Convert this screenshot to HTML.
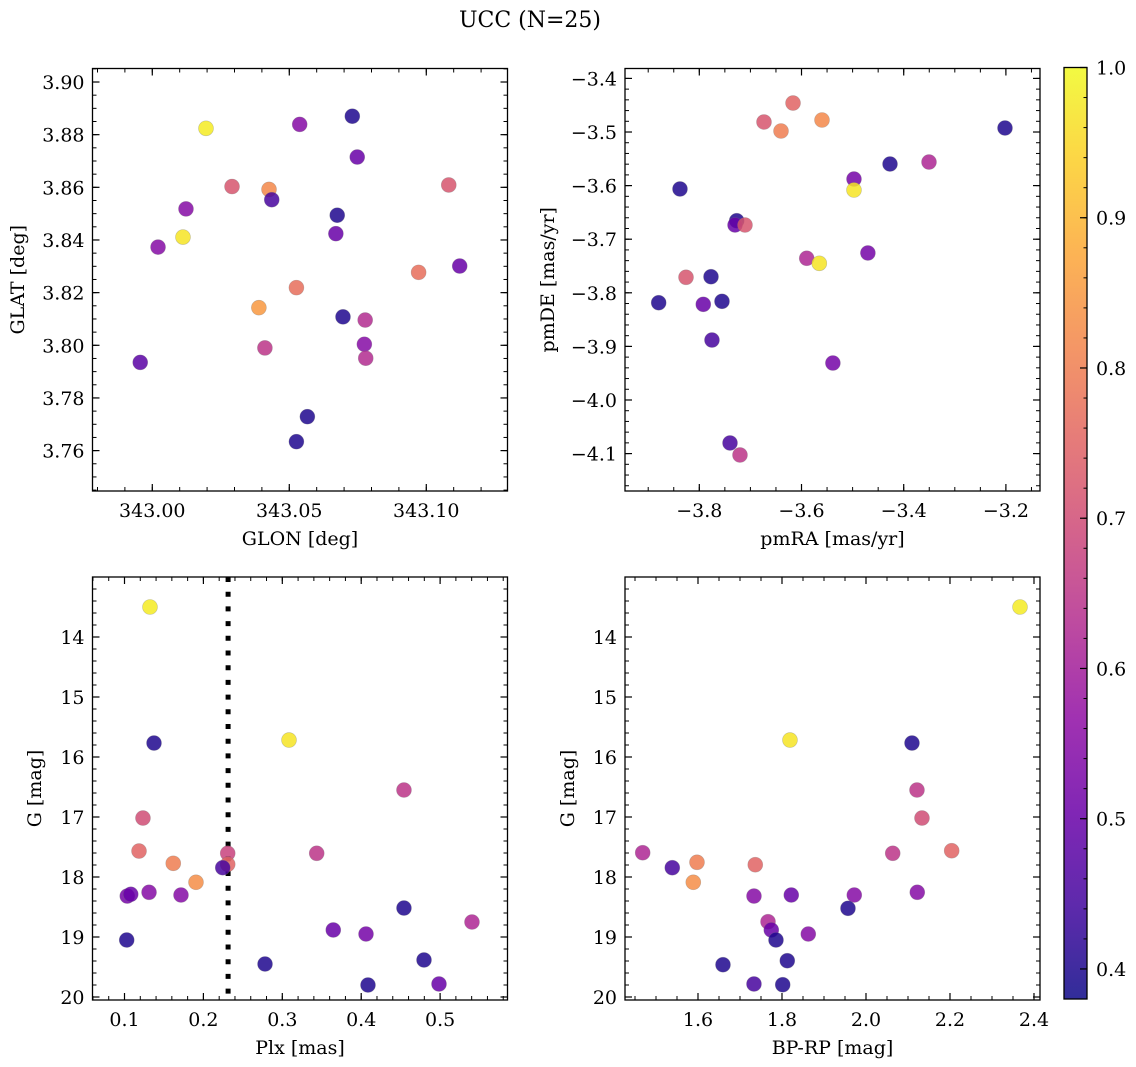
<!DOCTYPE html>
<html><head><meta charset="utf-8"><style>
html,body{margin:0;padding:0;background:#fff;}
svg{display:block;font-family:"DejaVu Serif","Liberation Serif",serif;}
</style></head><body>
<svg id="fig" width="1136" height="1067" viewBox="0 0 1136 1067" xmlns="http://www.w3.org/2000/svg">
<text x="530" y="27" text-anchor="middle" font-size="22">UCC (N=25)</text>
</svg>
<script>
// ---- data (per panel) ----
const glonVals=[343.0196,343.0538,343.0730,343.0748,343.0291,343.0426,343.0436,343.1082,343.0123,343.0675,343.0112,343.0021,343.0670,343.0972,343.1122,343.0526,343.0389,343.0696,343.0777,343.0774,343.0779,343.0411,342.9956,343.0566,343.0526];
const glatVals=[3.8824,3.8839,3.8870,3.8715,3.8603,3.8592,3.8553,3.8609,3.8518,3.8494,3.8411,3.8373,3.8424,3.8277,3.8301,3.8219,3.8143,3.8108,3.8096,3.8004,3.7951,3.7990,3.7935,3.7729,3.7634];
const probTL=[0.98,0.55,0.40,0.50,0.72,0.82,0.45,0.72,0.55,0.40,0.97,0.55,0.50,0.77,0.50,0.77,0.85,0.40,0.63,0.55,0.63,0.65,0.48,0.40,0.40];

const pmraVals=[-3.6166,-3.5599,-3.6734,-3.6401,-3.2018,-3.4973,-3.4268,-3.3505,-3.4973,-3.8378,-3.7268,-3.7301,-3.7106,-3.5898,-3.5652,-3.4701,-3.8260,-3.7771,-3.8795,-3.7922,-3.7556,-3.7752,-3.5386,-3.7399,-3.7204];
const pmdeVals=[-3.4459,-3.4776,-3.4813,-3.4981,-3.4925,-3.5877,-3.5597,-3.5560,-3.6082,-3.6063,-3.6655,-3.6735,-3.6735,-3.7356,-3.7450,-3.7257,-3.7711,-3.7700,-3.8185,-3.8215,-3.8159,-3.8881,-3.9310,-4.0802,-4.1026];
const probTR=[0.75,0.82,0.72,0.80,0.40,0.52,0.40,0.62,0.97,0.40,0.40,0.50,0.72,0.62,0.97,0.52,0.72,0.40,0.40,0.50,0.40,0.45,0.52,0.45,0.65];

const plxVals=[0.1323,0.3085,0.1374,0.4542,0.1234,0.1184,0.1618,0.1906,0.2308,0.2308,0.2245,0.3436,0.1035,0.1079,0.1311,0.1716,0.1028,0.3646,0.4542,0.5404,0.4061,0.2781,0.4796,0.4086,0.4986];
const gPlxVals=[13.50,15.717,15.767,16.55,17.017,17.567,17.772,18.088,17.605,17.788,17.845,17.605,18.317,18.288,18.255,18.30,19.05,18.883,18.517,18.75,18.95,19.45,19.383,19.80,19.783];
const probBL=[0.98,0.97,0.40,0.65,0.70,0.75,0.80,0.83,0.68,0.75,0.45,0.65,0.52,0.50,0.55,0.55,0.40,0.50,0.40,0.62,0.52,0.40,0.40,0.40,0.50];
const plxCut=[0.2313];

const bprpVals=[1.4683,1.5388,1.5976,1.5888,1.7364,1.7333,1.8221,1.9721,1.9571,2.0636,2.2040,2.1221,1.7667,1.7745,1.7857,1.8626,1.6595,1.8126,1.7333,1.8017,2.3667,1.8190,2.1095,2.1214,2.1333];
const gCmdVals=[17.595,17.845,17.755,18.088,17.795,18.317,18.30,18.30,18.522,17.605,17.562,18.255,18.745,18.883,19.05,18.95,19.462,19.395,19.783,19.795,13.50,15.717,15.767,16.55,17.017];
const probBR=[0.62,0.45,0.80,0.83,0.75,0.55,0.50,0.55,0.40,0.65,0.75,0.55,0.62,0.50,0.40,0.55,0.40,0.40,0.45,0.40,0.98,0.97,0.40,0.65,0.70];

const tlXTicks=[343.00,343.05,343.10];
const tlYTicks=[3.76,3.78,3.80,3.82,3.84,3.86,3.88,3.90];
const trXTicks=[-3.8,-3.6,-3.4,-3.2];
const trYTicks=[-4.1,-4.0,-3.9,-3.8,-3.7,-3.6,-3.5,-3.4];
const blXTicks=[0.1,0.2,0.3,0.4,0.5];
const gTicks=[14,15,16,17,18,19,20];
const brXTicks=[1.6,1.8,2.0,2.2,2.4];
const cbTicks=[0.4,0.5,0.6,0.7,0.8,0.9,1.0];

// ---- helpers ----
const NS="http://www.w3.org/2000/svg";
const svg=document.getElementById('fig');
const FS=19;
function mk(tag,attrs,parent){const e=document.createElementNS(NS,tag);for(const k in attrs)e.setAttribute(k,attrs[k]);(parent||svg).appendChild(e);return e;}
const stops=[[0,13,8,135],[0.1,65,4,157],[0.2,106,0,168],[0.3,143,13,164],[0.4,177,42,144],[0.5,204,71,120],[0.6,225,100,98],[0.7,242,132,75],[0.8,252,166,54],[0.9,252,206,37],[1,240,249,33]];
function plasma(t){t=Math.max(0,Math.min(1,t));for(let i=1;i<stops.length;i++){if(t<=stops[i][0]){const a=stops[i-1],b=stops[i];const f=(t-a[0])/(b[0]-a[0]);return `rgb(${Math.round(a[1]+f*(b[1]-a[1]))},${Math.round(a[2]+f*(b[2]-a[2]))},${Math.round(a[3]+f*(b[3]-a[3]))})`;}}return 'rgb(240,249,33)';}
const VMIN=0.38,VMAX=1.0;
function colorOf(p){return plasma((p-VMIN)/(VMAX-VMIN));}
function fmt(v,d){return (v<0?'\u2212':'')+Math.abs(v).toFixed(d);}

function panel(cfg){
  const g=mk('g',{});
  
  
  const {x0,x1,y0,y1}=cfg.box;
  const sx=v=>x0+(v-cfg.xd[0])/(cfg.xd[1]-cfg.xd[0])*(x1-x0);
  const sy=cfg.yInvert? (v=>y0+(v-cfg.yd[0])/(cfg.yd[1]-cfg.yd[0])*(y1-y0)) : (v=>y1-(v-cfg.yd[0])/(cfg.yd[1]-cfg.yd[0])*(y1-y0));
  const lo=Math.min(...cfg.xd),hi=Math.max(...cfg.xd);
  for(let v=Math.ceil(lo/cfg.xMinor-1e-9)*cfg.xMinor;v<=hi+1e-9;v+=cfg.xMinor){const px=sx(v);
    mk('line',{x1:px,x2:px,y1:y1,y2:y1-4,stroke:'#000','stroke-width':1},g);
    mk('line',{x1:px,x2:px,y1:y0,y2:y0+4,stroke:'#000','stroke-width':1},g);}
  const ylo=Math.min(...cfg.yd),yhi=Math.max(...cfg.yd);
  for(let v=Math.ceil(ylo/cfg.yMinor-1e-9)*cfg.yMinor;v<=yhi+1e-9;v+=cfg.yMinor){const py=sy(v);
    mk('line',{x1:x0,x2:x0+4,y1:py,y2:py,stroke:'#000','stroke-width':1},g);
    mk('line',{x1:x1,x2:x1-4,y1:py,y2:py,stroke:'#000','stroke-width':1},g);}
  cfg.xTicks.forEach(v=>{const px=sx(v);
    mk('line',{x1:px,x2:px,y1:y1,y2:y1-7,stroke:'#000','stroke-width':1.2},g);
    mk('line',{x1:px,x2:px,y1:y0,y2:y0+7,stroke:'#000','stroke-width':1.2},g);
    const t=mk('text',{x:px,y:y1+26,'text-anchor':'middle','font-size':FS},g);
    
    
    t.textContent=fmt(v,cfg.xDec);});
  cfg.yTicks.forEach(v=>{const py=sy(v);
    mk('line',{x1:x0,x2:x0+7,y1:py,y2:py,stroke:'#000','stroke-width':1.2},g);
    mk('line',{x1:x1,x2:x1-7,y1:py,y2:py,stroke:'#000','stroke-width':1.2},g);
    const t=mk('text',{x:x0-8,y:py+7,'text-anchor':'end','font-size':FS},g);
    
    
    t.textContent=fmt(v,cfg.yDec);});
  if(cfg.vline){const px=sx(cfg.vline[0]);
    const l=mk('line',{x1:px,x2:px,y1:y0,y2:y1,stroke:'#000','stroke-width':5,'stroke-dasharray':'5 9.7'},g);
    
    }
  cfg.xs.forEach((xv,i)=>{
    const c=mk('circle',{cx:sx(xv),cy:sy(cfg.ys[i]),r:7.5,fill:colorOf(cfg.ps[i]),'fill-opacity':0.85,stroke:'#777','stroke-opacity':0.4,'stroke-width':0.6},g);
    
    
  });
  const f=mk('rect',{x:x0,y:y0,width:x1-x0,height:y1-y0,fill:'none',stroke:'#000','stroke-width':1.3},g);
  
  
  const xt=mk('text',{x:(x0+x1)/2,y:y1+54,'text-anchor':'middle','font-size':FS},g);
  
  
  xt.textContent=cfg.xLabel;
  const yt=mk('text',{x:0,y:0,'text-anchor':'middle','font-size':FS,transform:`translate(${cfg.yLabelX},${(y0+y1)/2}) rotate(-90)`},g);
  
  
  yt.textContent=cfg.yLabel;
}

panel({name:'glon-glat-panel',box:{x0:92.5,x1:507.5,y0:68.5,y1:491},xd:[342.97818,343.12964],yd:[3.74466,3.90513],
  xTicks:tlXTicks,yTicks:tlYTicks,xMinor:0.01,yMinor:0.005,xDec:2,yDec:2,xs:glonVals,ys:glatVals,ps:probTL,
  xLabel:'GLON [deg]',yLabel:'GLAT [deg]',yLabelX:24});
panel({name:'pm-panel',box:{x0:625,x1:1040,y0:68.5,y1:491},xd:[-3.9454,-3.1333],yd:[-4.1698,-3.3815],
  xTicks:trXTicks,yTicks:trYTicks,xMinor:0.05,yMinor:0.02,xDec:1,yDec:1,xs:pmraVals,ys:pmdeVals,ps:probTR,
  xLabel:'pmRA [mas/yr]',yLabel:'pmDE [mas/yr]',yLabelX:554});
panel({name:'plx-g-panel',box:{x0:92.5,x1:507.5,y0:577,y1:1000},xd:[0.05944,0.58542],yd:[13.0,20.05],yInvert:true,
  xTicks:blXTicks,yTicks:gTicks,xMinor:0.02,yMinor:0.2,xDec:1,yDec:0,xs:plxVals,ys:gPlxVals,ps:probBL,vline:plxCut,
  xLabel:'Plx [mas]',yLabel:'G [mag]',yLabelX:41});
panel({name:'cmd-panel',box:{x0:625,x1:1040,y0:577,y1:1000},xd:[1.4262,2.4143],yd:[13.0,20.05],yInvert:true,
  xTicks:brXTicks,yTicks:gTicks,xMinor:0.05,yMinor:0.2,xDec:1,yDec:0,xs:bprpVals,ys:gCmdVals,ps:probBR,
  xLabel:'BP-RP [mag]',yLabel:'G [mag]',yLabelX:574});

// ---- colorbar ----
(function(){
  const cx0=1064,cx1=1087,cy0=67.5,cy1=999;
  const g=mk('g',{});
  
  
  const defs=mk('defs',{},g);
  const lg=mk('linearGradient',{id:'cbgrad',x1:0,y1:1,x2:0,y2:0},defs);
  for(let i=0;i<=20;i++){const t=i/20;mk('stop',{offset:t,'stop-color':plasma(t),'stop-opacity':0.85},lg);}
  mk('rect',{x:cx0,y:cy0,width:cx1-cx0,height:cy1-cy0,fill:'url(#cbgrad)'},g);
  const sy=v=>cy1-(v-VMIN)/(VMAX-VMIN)*(cy1-cy0);
  for(let v=0.38;v<=1.0001;v+=0.02){const py=sy(v);mk('line',{x1:cx1,x2:cx1-3.5,y1:py,y2:py,stroke:'#000','stroke-width':1},g);}
  cbTicks.forEach(v=>{const py=sy(v);
    mk('line',{x1:cx1,x2:cx1-7,y1:py,y2:py,stroke:'#000','stroke-width':1.2},g);
    const t=mk('text',{x:cx1+9,y:py+7,'font-size':FS},g);
    
    
    t.textContent=v.toFixed(1);});
  mk('rect',{x:cx0,y:cy0,width:cx1-cx0,height:cy1-cy0,fill:'none',stroke:'#000','stroke-width':1.3},g);
})();
</script>
</body></html>
